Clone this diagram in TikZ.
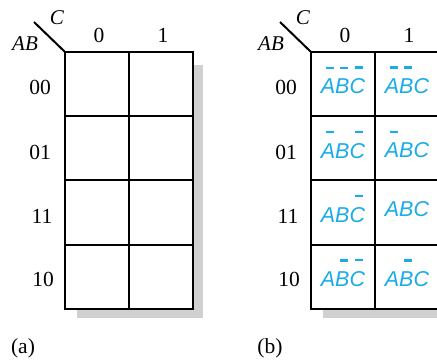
\documentclass[tikz,border=0pt]{standalone}
\usepackage{fontspec}
\setmainfont{Liberation Serif}
\newfontfamily\cellfont{Liberation Sans}
\definecolor{kcyan}{RGB}{25,172,232}
\definecolor{shadowgray}{RGB}{208,208,208}
\newcommand\ob[1]{\setbox0\hbox{#1}\makebox[0pt][l]{\hspace*{0.36\wd0}\raisebox{\dimexpr\ht0+10pt\relax}{\rule{0.52\wd0}{2.4pt}}}\box0}
\begin{document}
\begin{tikzpicture}[x=1pt,y=-1pt,
  kcell/.style={draw=black,line width=2pt,fill=white,minimum width=64pt,minimum height=64.25pt,inner sep=0pt,outer sep=0pt},
  lbl/.style={font=\fontsize{21.5}{24}\selectfont,inner sep=0pt},
  ilbl/.style={font=\fontsize{21}{24}\selectfont\itshape,inner sep=0pt},
  ctxt/.style={font=\fontsize{21.5}{25}\selectfont\cellfont\itshape,text=kcyan,inner sep=0pt},
  diag/.style={line width=2pt,draw=black},
  shadow/.style={fill=shadowgray,draw=none}]
\useasboundingbox (0,0) rectangle (437,360);
\clip (0,0) rectangle (437,360);
% ---------- (a) ----------
\fill[shadow] (77,65) rectangle (203,318);
\foreach \r/\y in {1/84.1,2/148.4,3/212.6,4/276.9}{
  \node[kcell] (a\r c0) at (97,\y) {};
  \node[kcell] (a\r c1) at (161,\y) {};
}
\coordinate (ad) at (34,22);
\draw[diag] (ad) -- (a1c0.north west);
\node[ilbl] (aC) at (57,18) {C};
\node[ilbl] (aAB) at (25,44) {AB};
\node[lbl] (a0) at (99,35) {0};
\node[lbl] (a1) at (163,35) {1};
\node[lbl] (ar1) at (40,87) {00};
\node[lbl] (ar2) at (40,152) {01};
\node[lbl] (ar3) at (42,216) {11};
\node[lbl] (ar4) at (43,279) {10};
\node[lbl] (acap) at (23,348) {(a)};
% ---------- (b) ----------
\fill[shadow] (323,65) rectangle (449,318);
\foreach \r/\y in {1/84.1,2/148.4,3/212.6,4/276.9}{
  \node[kcell] (b\r c0) at (343,\y) {};
  \node[kcell] (b\r c1) at (407,\y) {};
}
\coordinate (bd) at (280,22);
\draw[diag] (bd) -- (b1c0.north west);
\node[ilbl] (bC) at (303,18) {C};
\node[ilbl] (bAB) at (271,44) {AB};
\node[lbl] (b0) at (345,35) {0};
\node[lbl] (b1) at (409,35) {1};
\node[lbl] (br1) at (286,87) {00};
\node[lbl] (br2) at (286,152) {01};
\node[lbl] (br3) at (288,216) {11};
\node[lbl] (br4) at (289,279) {10};
\node[lbl] (bcap) at (270,348) {(b)};
% cell texts
\node[ctxt] (t10) at ([yshift=4pt]b1c0.center) {\ob{A}\ob{B}\ob{C}};
\node[ctxt] (t11) at ([yshift=4pt]b1c1.center) {\ob{A}\ob{B}C};
\node[ctxt] (t20) at ([yshift=4pt]b2c0.center) {\ob{A}B\ob{C}};
\node[ctxt] (t21) at ([yshift=4pt]b2c1.center) {\ob{A}BC};
\node[ctxt] (t30) at ([yshift=4pt]b3c0.center) {AB\ob{C}};
\node[ctxt] (t31) at ([yshift=4pt]b3c1.center) {ABC};
\node[ctxt] (t40) at ([yshift=4pt]b4c0.center) {A\ob{B}\ob{C}};
\node[ctxt] (t41) at ([yshift=4pt]b4c1.center) {A\ob{B}C};
\end{tikzpicture}
\end{document}
